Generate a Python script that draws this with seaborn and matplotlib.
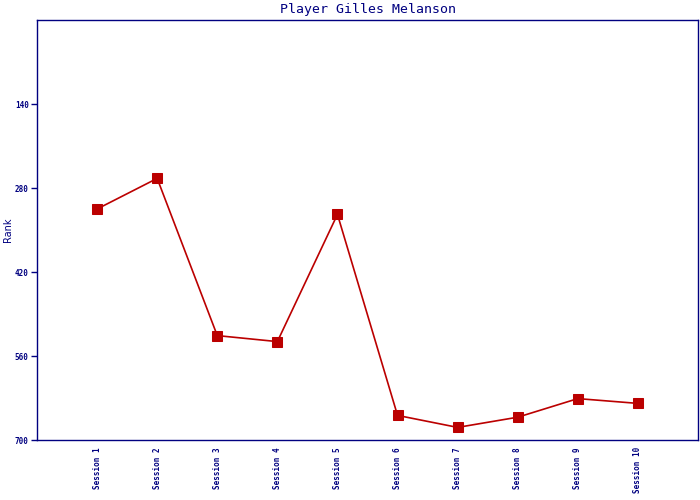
import pandas as pd
import seaborn as sns
import matplotlib.pyplot as plt

sessions = ["Session 1", "Session 2", "Session 3", "Session 4", "Session 5",
            "Session 6", "Session 7", "Session 8", "Session 9", "Session 10"]
ranks = [315, 264, 526, 536, 324, 659, 679, 662, 631, 639]
y_ticks = [140, 280, 420, 560, 700]

navy = "#000080"
red = "#BB0000"

sns.set_style("white")
plt.rcParams["font.family"] = ["DejaVu Sans Mono", "DejaVu Sans"]

df = pd.DataFrame({"session": sessions, "rank": ranks})

fig = plt.figure(figsize=(7, 5), dpi=100)
ax = fig.add_axes([37 / 700, 60 / 500, 661 / 700, 420 / 500])

sns.lineplot(data=df, x="session", y="rank", sort=False, ax=ax,
             color=red, linewidth=1.2, marker="s", markersize=7,
             markeredgecolor=red, markerfacecolor=red)

ax.set_xlim(-1, 10)
ax.set_ylim(700, 0)
ax.set_yticks(y_ticks)
ax.set_yticklabels([str(t) for t in y_ticks], fontsize=5.5, color=navy, fontweight="bold")
ax.tick_params(axis="y", direction="out", length=4, width=1, color=navy, pad=2, left=True)
ax.tick_params(axis="x", length=0, pad=5)
for lbl in ax.get_xticklabels():
    lbl.set_rotation(90)
    lbl.set_fontsize(5.5)
    lbl.set_color(navy)
    lbl.set_fontweight("bold")
    lbl.set_va("top")

for sp in ax.spines.values():
    sp.set_visible(True)
    sp.set_color(navy)
    sp.set_linewidth(1)

ax.set_xlabel("")
ax.set_ylabel("Rank", fontsize=7, color=navy, family="DejaVu Sans", labelpad=1)
ax.set_title("Player Gilles Melanson", fontsize=9.5, color=navy, pad=5)

fig.savefig("out.png", dpi=100)
